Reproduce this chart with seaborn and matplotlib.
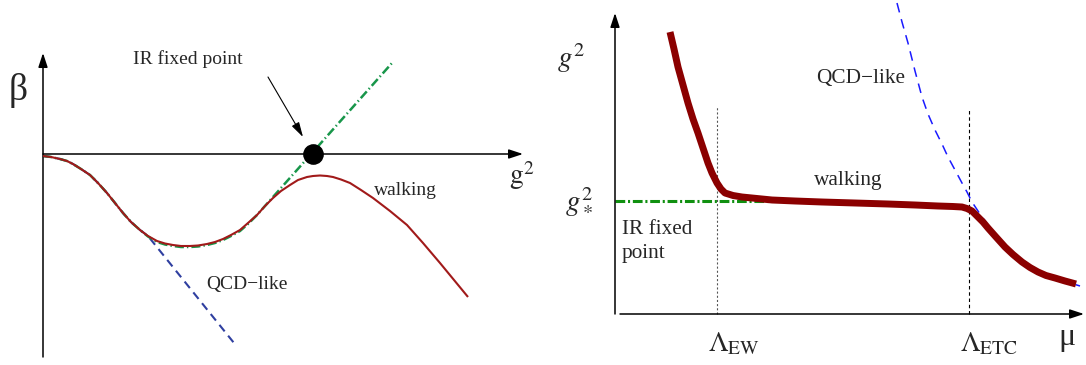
import matplotlib
matplotlib.use("Agg")
import matplotlib.pyplot as plt
import pandas as pd
import seaborn as sns

# ---- beta function vs coupling (left panel) ----
walk_g2 = [0.00, 0.08, 0.17, 0.24, 0.30, 0.38, 0.47, 0.55, 0.64, 0.72, 0.80, 0.88,
           0.97, 1.05, 1.14, 1.22, 1.30, 1.38, 1.47, 1.55, 1.64, 1.72, 1.80, 1.88,
           1.97, 2.05, 2.14, 2.22, 2.30, 2.38, 2.47, 2.55, 2.64, 2.70, 2.77, 2.84,
           2.90, 2.98, 3.07, 3.18, 3.30, 3.47, 3.64, 3.80, 3.97, 4.11, 4.25]
walk_beta = [-0.02, -0.03, -0.05, -0.07, -0.10, -0.15, -0.21, -0.29, -0.39, -0.49, -0.59, -0.68,
             -0.76, -0.82, -0.87, -0.895, -0.91, -0.92, -0.92, -0.915, -0.90, -0.88, -0.85, -0.81,
             -0.76, -0.69, -0.61, -0.52, -0.44, -0.37, -0.31, -0.26, -0.23, -0.22, -0.215, -0.22,
             -0.23, -0.255, -0.29, -0.36, -0.44, -0.57, -0.71, -0.89, -1.09, -1.26, -1.43]

qcd_g2 = [0.00, 0.08, 0.17, 0.24, 0.30, 0.38, 0.47, 0.55, 0.64, 0.72, 0.80, 0.88,
          0.97, 1.05, 1.91]
qcd_beta = [-0.02, -0.03, -0.05, -0.07, -0.10, -0.15, -0.21, -0.29, -0.39, -0.49, -0.59, -0.68,
            -0.76, -0.82, -1.89]

irfp_g2 = [0.00, 0.08, 0.17, 0.24, 0.30, 0.38, 0.47, 0.55, 0.64, 0.72, 0.80, 0.88,
           0.97, 1.05, 1.14, 1.22, 1.30, 1.38, 1.47, 1.55, 1.64, 1.72, 1.80, 1.88,
           1.97, 2.05, 2.14, 3.49]
irfp_beta = [-0.02, -0.03, -0.05, -0.07, -0.10, -0.15, -0.21, -0.29, -0.39, -0.49, -0.59, -0.68,
             -0.76, -0.825, -0.88, -0.905, -0.92, -0.93, -0.93, -0.925, -0.91, -0.89, -0.86, -0.82,
             -0.77, -0.70, -0.61, 0.91]

fixed_point_g2 = 2.70
fixed_point_beta = 0.0

# ---- running coupling vs scale (right panel) ----
walk_mu = [0.55, 0.59, 0.63, 0.68, 0.73, 0.78, 0.83, 0.88, 0.93, 0.97, 1.02, 1.06,
           1.10, 1.18, 1.27, 1.42, 1.57, 1.80, 2.07, 2.40, 2.73, 3.00, 3.23, 3.38,
           3.47, 3.52, 3.57, 3.63, 3.68, 3.73, 3.81, 3.90, 3.98, 4.07, 4.15, 4.23,
           4.31, 4.40, 4.50, 4.61]
walk_g2_run = [2.82, 2.65, 2.47, 2.29, 2.11, 1.95, 1.81, 1.66, 1.51, 1.41, 1.31, 1.25,
               1.21, 1.185, 1.17, 1.155, 1.14, 1.13, 1.12, 1.11, 1.10, 1.09, 1.08, 1.075,
               1.07, 1.055, 1.03, 0.97, 0.92, 0.86, 0.77, 0.67, 0.595, 0.52, 0.465, 0.42,
               0.385, 0.36, 0.33, 0.30]

qcd_mu = [2.82, 2.87, 2.93, 3.00, 3.07, 3.13, 3.20, 3.27, 3.33, 3.40, 3.47, 3.52,
          3.57, 3.65, 3.73, 3.81, 3.90, 3.98, 4.07, 4.23, 4.40, 4.52, 4.65]
qcd_g2_run = [3.11, 2.92, 2.71, 2.43, 2.17, 2.00, 1.84, 1.70, 1.57, 1.44, 1.31, 1.22,
              1.12, 1.00, 0.89, 0.79, 0.69, 0.61, 0.54, 0.44, 0.37, 0.32, 0.28]

g2_star = 1.13
ir_mu = [0.0, 1.8]
scale_labels = [r"$\Lambda_{\rm EW}$", r"$\Lambda_{\rm ETC}$"]
scale_values = [1.02, 3.54]
scale_tops = [2.08, 2.04]

sns.set_theme(style="white")
plt.rcParams["font.family"] = ["Liberation Serif", "DejaVu Serif"]
plt.rcParams["mathtext.fontset"] = "stix"
plt.rcParams["lines.scale_dashes"] = False
plt.rcParams["lines.solid_capstyle"] = "butt"
plt.rcParams["lines.solid_joinstyle"] = "round"

RED_L = "#a11a1a"
RED_R = "#8b0000"
GREEN_L = "#18964a"
GREEN_R = "#109010"
BLUE_L = "#2f3fa0"
BLUE_R = "#1a1aff"

fig = plt.figure(figsize=(10.86, 3.65), dpi=100)
axL = fig.add_axes([0, 0, 540 / 1086, 1])
axR = fig.add_axes([540 / 1086, 0, 546 / 1086, 1])
for ax in (axL, axR):
    ax.set_axis_off()

axL.set_xlim(-0.43, 4.97)
axL.set_ylim(-2.11, 1.54)
axR.set_xlim(-0.75, 4.71)
axR.set_ylim(-0.51, 3.14)


def axis_arrow(ax, start, end, lw=1.1, hl=0.85, hw=0.28):
    ax.annotate("", xy=end, xytext=start,
                arrowprops=dict(arrowstyle=f"-|>,head_length={hl},head_width={hw}",
                                lw=lw, color="black", shrinkA=0, shrinkB=0,
                                mutation_scale=10),
                annotation_clip=False)


def curve(ax, x, y, color, lw, dashes=None, z=2):
    df = pd.DataFrame({"x": x, "y": y})
    sns.lineplot(data=df, x="x", y="y", ax=ax, color=color, linewidth=lw,
                 sort=False, estimator=None, zorder=z)
    line = ax.lines[-1]
    if dashes is not None:
        line.set_dashes(dashes)
    line.set_clip_on(False)
    ax.set_xlabel("")
    ax.set_ylabel("")


# ---- left panel ----
axis_arrow(axL, (0, -2.03), (0, 1.01))
axis_arrow(axL, (0, 0), (4.80, 0))

curve(axL, qcd_g2, qcd_beta, BLUE_L, 1.5, dashes=(6.0, 4.0), z=2)
curve(axL, irfp_g2, irfp_beta, GREEN_L, 1.8, dashes=(6.5, 2.2, 1.0, 2.2), z=2)
curve(axL, walk_g2, walk_beta, RED_L, 1.5, z=3)

sns.scatterplot(x=[fixed_point_g2], y=[fixed_point_beta], ax=axL, s=190,
                color="black", edgecolor="black", zorder=5, clip_on=False)
axL.set_xlabel("")
axL.set_ylabel("")

axL.annotate("", xy=(2.60, 0.17), xytext=(2.25, 0.77),
             arrowprops=dict(arrowstyle="-|>,head_length=0.9,head_width=0.25",
                             lw=0.8, color="black", shrinkA=0, shrinkB=0,
                             mutation_scale=10))

axL.text(-0.25, 0.64, "\u03b2", fontsize=27, ha="center", va="center")
axL.text(4.79, -0.22, r"$\mathrm{g}^2$", fontsize=20, ha="center", va="center")
axL.text(1.45, 0.95, "IR fixed point", fontsize=14, ha="center", va="center")
axL.text(3.62, -0.36, "walking", fontsize=14, ha="center", va="center")
axL.text(2.04, -1.31, "QCD\u2212like", fontsize=14, ha="center", va="center")

# ---- right panel ----
axis_arrow(axR, (0, 0), (0, 3.01))
axis_arrow(axR, (0.05, 0), (4.69, 0))

for xv, top, style in zip(scale_values, scale_tops, [("#555555", (1.5, 1.5)), ("black", (2.5, 2.0))]):
    curve(axR, [xv, xv], [0, top], style[0], 0.8, dashes=style[1], z=1)

curve(axR, ir_mu, [g2_star, g2_star], GREEN_R, 2.2, dashes=(7.0, 2.0, 1.5, 2.0), z=2)
curve(axR, qcd_mu, qcd_g2_run, BLUE_R, 1.1, dashes=(7.0, 5.0), z=2)
curve(axR, walk_mu, walk_g2_run, RED_R, 5.0, z=3)

axR.text(-0.44, 2.56, r"$g^2$", fontsize=21, ha="center", va="center")
axR.text(-0.36, 1.13, r"$g_*^2$", fontsize=21, ha="center", va="center")
axR.text(0.07, 0.94, "IR fixed\npoint", fontsize=15.3, ha="left", va="top",
         linespacing=1.35)
axR.text(2.46, 2.35, "QCD\u2212like", fontsize=15.3, ha="center", va="center")
axR.text(2.33, 1.33, "walking", fontsize=15.3, ha="center", va="center")
for xv, lab in zip(scale_values, scale_labels):
    axR.text(xv - 0.09, -0.30, lab, fontsize=20, ha="left", va="center")
axR.text(4.52, -0.24, "\u03bc", fontsize=23, ha="center", va="center")

fig.savefig("out.png", dpi=100, facecolor="white")
